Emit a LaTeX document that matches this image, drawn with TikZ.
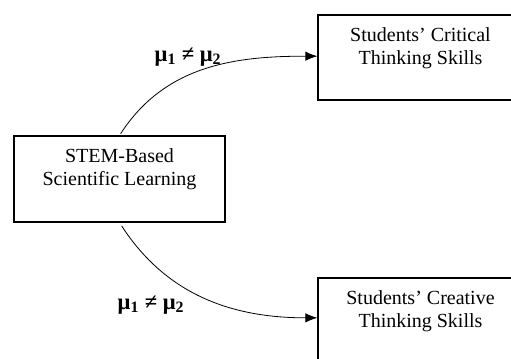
\documentclass[tikz,border=0pt]{standalone}
\usepackage{fontspec}
\setmainfont{Liberation Serif}
\usetikzlibrary{arrows.meta,positioning}

\begin{document}
\begin{tikzpicture}[x=0.75pt,y=-0.75pt,
    box/.style={draw,line width=0.9pt,align=center,inner sep=0pt,
      font=\fontsize{15}{17.25}\selectfont},
    link/.style={line width=0.6pt,-{Latex[length=9pt,width=7pt]}},
    mean/.style={font=\fontsize{17}{20}\selectfont\bfseries}]
    % Rand en uitsnede
    \useasboundingbox (0,0) rectangle (511,358);
    \clip (0,0) rectangle (511,358);

    % Blokken
    \node[box,minimum width=158.25pt,minimum height=64.5pt] (stem) at (119.5,179)
      {STEM-Based\\Scientific Learning\\\mbox{}};
    \node[box,minimum width=153.75pt,minimum height=63.75pt] (crit) at (420.5,57.5)
      {Students' Critical\\Thinking Skills\\\mbox{}};
    \node[box,minimum width=153.75pt,minimum height=63.75pt] (crea) at (420.5,320.5)
      {Students' Creative\\Thinking Skills\\\mbox{}};

    % Pijlen
    \draw[link,shorten <=1.5pt] (stem.north) to[out=57,in=180] ([yshift=1pt]crit.west);
    \draw[link,shorten <=3pt] (stem.south) to[out=-57,in=180] ([yshift=2pt]crea.west);

    % Labels bij de pijlen
    \node[mean] (m1) at (188,57) {μ\textsubscript{1} ≠ μ\textsubscript{2}};
    \node[mean] (m2) at (151,305) {μ\textsubscript{1} ≠ μ\textsubscript{2}};
\end{tikzpicture}
\end{document}
